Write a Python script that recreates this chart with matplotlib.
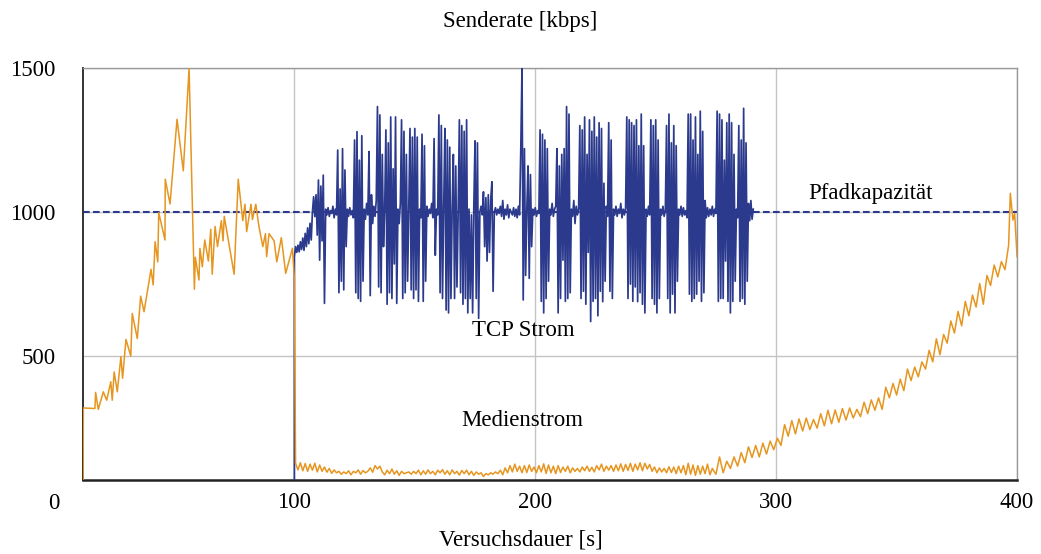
import numpy as np
import matplotlib.pyplot as plt

plt.rcParams['font.family'] = ['Liberation Serif', 'DejaVu Serif']

# Medienstrom: Anlauf bis 100 s (unregelmaessige Zeitpunkte)
media_t_start = [12.3, 12.4, 17.2, 17.5, 18.6, 20.7, 22.1, 23.8, 24.4, 25.2,
                 26.5, 28.0, 28.7, 30.1, 32.1, 32.7, 34.8, 36.2, 37.6, 40.5,
                 41.4, 42.2, 43.3, 43.7, 46.3, 46.4, 48.4, 51.3, 53.9, 56.3,
                 58.5, 58.9, 60.4, 60.8, 61.8, 62.8, 64.3, 65.3, 65.9, 67.1,
                 68.1, 69.7, 70.4, 70.9, 75.0, 76.7, 78.6, 79.5, 80.2, 82.0,
                 82.6, 84.0, 85.3, 86.9, 88.0, 88.5, 89.5, 91.6, 92.7, 94.6,
                 96.4, 99.2, 100.0]
media_v_start = [0, 320, 318, 374, 315, 376, 347, 411, 347, 445,
                 376, 498, 423, 558, 500, 648, 561, 708, 654, 801,
                 747, 897, 827, 998, 903, 1114, 1028, 1322, 1143, 1499,
                 732, 843, 764, 874, 810, 903, 830, 940, 784, 950,
                 880, 970, 900, 985, 784, 1114, 970, 1027, 932, 1027,
                 974, 1027, 950, 880, 925, 845, 925, 900, 827, 911,
                 787, 874, 770]

# Medienstrom waehrend des TCP-Stroms (1-s-Raster ab 100.5 s)
media_v_mid = [128, 105, 130, 102, 127, 100, 125, 104, 128, 98,
               122, 100, 115, 97, 110, 93, 105, 95, 100, 90,
               98, 92, 102, 88, 100, 95, 105, 90, 103, 95,
               100, 112, 97, 120, 108, 118, 98, 88, 104, 92,
               108, 90, 102, 86, 100, 92, 95, 98, 90, 100,
               92, 104, 88, 102, 90, 105, 92, 100, 88, 104,
               95, 106, 90, 102, 88, 105, 92, 100, 87, 103,
               92, 104, 88, 100, 86, 98, 90, 95, 82, 92,
               88, 95, 90, 98, 92, 104, 88, 112, 95, 120,
               98, 125, 100, 118, 95, 120, 96, 122, 100, 115,
               95, 120, 98, 126, 93, 122, 95, 118, 92, 120,
               96, 115, 100, 118, 95, 112, 100, 110, 98, 115,
               102, 118, 100, 114, 98, 120, 105, 125, 100, 118,
               104, 120, 100, 122, 102, 126, 100, 124, 103, 128,
               100, 125, 105, 130, 102, 128, 108, 124, 100, 115,
               95, 112, 98, 110, 95, 116, 96, 115, 92, 118,
               95, 120, 88, 128, 90, 122, 86, 120, 90, 118,
               92, 125, 88, 110]
media_t_mid = np.arange(100.5, 100.5 + len(media_v_mid), 1.0)

# Medienstrom: Wiederanstieg nach Ende des TCP-Stroms (1.5-s-Raster ab 275 s)
media_v_rise = [90, 150, 95, 135, 110, 150, 118, 165, 130, 185,
                148, 190, 150, 198, 160, 205, 175, 215, 190, 262,
                222, 276, 230, 282, 240, 285, 245, 280, 250, 300,
                258, 312, 265, 313, 270, 318, 278, 320, 285, 315,
                290, 340, 300, 348, 312, 355, 315, 392, 355, 405,
                365, 420, 380, 455, 415, 462, 428, 480, 455, 520,
                480, 560, 505, 575, 545, 622, 580, 655, 605, 690,
                640, 712, 670, 752, 680, 780, 745, 816, 775, 828,
                800, 885]
media_t_rise = np.arange(275.0, 275.0 + 1.5 * len(media_v_rise), 1.5)

# Spitze am Ende
media_t_end = [397.2, 398.3, 399.0, 400.0]
media_v_end = [1065, 972, 995, 845]

# TCP-Strom (0.5-s-Raster von 100 s bis 290.5 s, erster Wert = Start bei 0)
tcp_rate = [0,
            845, 880, 860, 885, 862, 897, 870, 910, 867, 926, 880, 945, 890, 961, 903, 1000, 1053, 984, 1060, 920,
            1111, 833, 1090, 900, 1128, 683, 1010, 990, 1015, 985, 1005, 995, 1020, 980, 1010, 990, 1215, 720, 1080, 760,
            1220, 730, 1146, 880, 1010, 985, 1015, 990, 1005, 980, 1250, 720, 1279, 700, 1180, 690, 1265, 760, 1010, 975,
            1030, 990, 1210, 710, 1060, 960, 1020, 985, 1040, 1366, 740, 1337, 720, 1200, 880, 1010, 1285, 680, 1240, 720,
            1330, 700, 1150, 820, 1330, 683, 1010, 960, 1030, 1320, 700, 1280, 720, 1200, 760, 1010, 1290, 730, 1260, 700,
            1290, 730, 1260, 690, 1010, 980, 1270, 690, 1230, 760, 1020, 985, 1010, 995, 1030, 980, 1255, 850, 1010, 990,
            1337, 720, 1300, 700, 1020, 1290, 660, 1250, 650, 1225, 700, 1010, 1200, 700, 1160, 740, 1000, 1320, 720, 1300,
            680, 1280, 700, 1320, 650, 1010, 700, 990, 650, 1020, 1247, 700, 1240, 631, 1000, 1020, 990, 1070, 880, 1050,
            830, 1060, 860, 1040, 1105, 725, 1000, 1015, 990, 1010, 995, 1020, 985, 1040, 975, 1010, 990, 1025, 980, 1010,
            1000, 990, 1015, 985, 1010, 980, 1020, 990, 1220, 1500, 695, 1220, 780, 1010, 1160, 770, 1130, 880, 1010, 990,
            1015, 985, 1005, 995, 1285, 690, 1270, 650, 1250, 700, 1220, 760, 1010, 990, 1030, 985, 1010, 1020, 1220, 650,
            1160, 700, 1200, 833, 1220, 690, 1366, 700, 1340, 720, 1010, 985, 1040, 960, 1020, 990, 1010, 1300, 700, 1285,
            725, 1330, 680, 1200, 860, 1320, 620, 1280, 690, 1330, 700, 1260, 640, 1310, 725, 1290, 689, 1100, 760, 1020,
            985, 1310, 725, 1250, 700, 1010, 990, 1020, 985, 1010, 995, 1030, 980, 1010, 990, 1015, 1330, 700, 1320, 750,
            1310, 690, 1300, 740, 1320, 689, 1230, 720, 1340, 680, 1230, 650, 1010, 985, 1020, 990, 1320, 700, 1300, 680,
            1320, 650, 1250, 700, 1010, 990, 1020, 985, 1005, 1300, 700, 1340, 650, 1240, 715, 1300, 650, 1230, 760, 1010,
            990, 1020, 985, 1015, 990, 1005, 980, 1340, 715, 1340, 690, 1250, 700, 1330, 715, 1200, 760, 1350, 690, 1280,
            720, 1040, 980, 1015, 985, 1010, 990, 1020, 985, 1010, 995, 1350, 690, 1340, 700, 1320, 700, 1180, 830, 1310,
            690, 1340, 650, 1310, 690, 1200, 760, 1010, 980, 1300, 690, 1250, 700, 1360, 680, 1240, 760, 1030, 970, 1040,
            975, 1010]
tcp_t = np.r_[100.0, np.arange(100.0, 100.0 + 0.5 * (len(tcp_rate) - 1), 0.5)]

capacity = 1000

media_t = np.r_[media_t_start, media_t_mid, media_t_rise, media_t_end]
media_v = np.r_[media_v_start, media_v_mid, media_v_rise, media_v_end]

blue = '#2b3a8c'
orange = '#e6951f'
fs = 16.5

fig = plt.figure(figsize=(10.41, 5.54), dpi=100)
ax = fig.add_axes([0.0797, 0.1336, 0.8973, 0.7437])

ax.axhline(capacity, color=blue, lw=1.5, dashes=(3.2, 1.6), zorder=2)
ax.plot(tcp_t, tcp_rate, color=blue, lw=1.25, zorder=3)
ax.plot(media_t, media_v, color=orange, lw=1.1, zorder=4)

ax.set_xlim(12.25, 400)
ax.set_ylim(70, 1500)
ax.set_xticks([100, 200, 300, 400])
ax.set_yticks([500, 1000, 1500])
ax.tick_params(length=0, labelsize=fs)
ax.tick_params(axis='x', pad=9)
ax.tick_params(axis='y', pad=20)
ax.grid(True, color='#c4c4c4', lw=1)
ax.set_axisbelow(True)

ax.spines['left'].set_color('#333333')
ax.spines['left'].set_linewidth(1.4)
ax.spines['bottom'].set_color('#222222')
ax.spines['bottom'].set_linewidth(1.8)
for s in ('top', 'right'):
    ax.spines[s].set_color('#999999')
    ax.spines[s].set_linewidth(1.0)

# Nullpunkt der Zeitachse liegt links ausserhalb des Ausschnitts
ax.text(0, -0.0316, '0', transform=ax.get_xaxis_transform(),
        ha='center', va='top', fontsize=fs, clip_on=False)

ax.text(339, 1066, 'Pfadkapazität', ha='center', va='center', fontsize=fs)
ax.text(195, 590, 'TCP Strom', ha='center', va='center', fontsize=fs)
ax.text(194.6, 278, 'Medienstrom', ha='center', va='center', fontsize=fs)

fig.text(0.5, 1 - 22 / 554, 'Senderate [kbps]', ha='center', va='center', fontsize=fs)
fig.text(0.5, 1 - 540 / 554, 'Versuchsdauer [s]', ha='center', va='center', fontsize=fs)

fig.savefig('out.png', dpi=100)
